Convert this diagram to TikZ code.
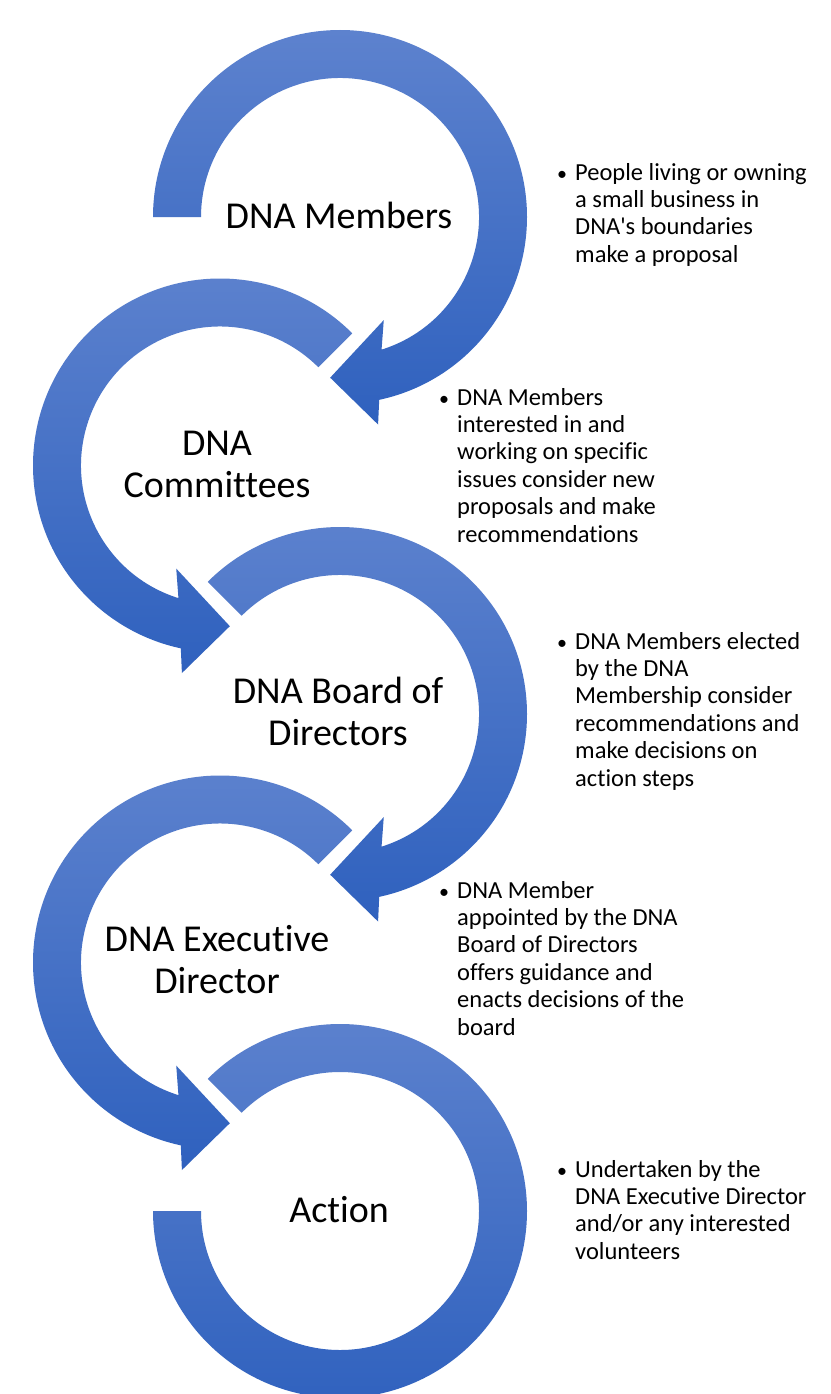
\documentclass[tikz,border=0pt]{standalone}
\usepackage{fontspec}
\setmainfont{Carlito}[Ligatures={NoCommon}]
\begin{document}
\begin{tikzpicture}[x=1pt,y=1pt,
  arrowshade/.style={top color=arrtop, bottom color=arrbot},
  title/.style={font=\fontsize{38}{42}\selectfont, align=center, inner sep=0pt, anchor=base, text=black},
  desc/.style={font=\fontsize{24.5}{27.4}\selectfont, align=left, inner sep=0pt, anchor=base west, text=black},
  bul/.style={font=\fontsize{20}{24}\selectfont, inner sep=0pt, anchor=base, text=black}]
\definecolor{arrtop}{RGB}{93,130,206}
\definecolor{arrbot}{RGB}{47,97,190}
\useasboundingbox (0,0) rectangle (830,-1394);
\fill[white] (0,0) rectangle (830,-1394);

% circle 1 (clockwise, head at bottom)
\begin{scope}[shift={(340,-217)}]
\shade[arrowshade] (180:187) arc[start angle=180, end angle=-77.9, radius=187]
  -- (-79.6:211) -- (-93.5:161) -- (-67:112) -- (-72.6:139)
  arc[start angle=-72.6, end angle=180, radius=139] -- cycle;
\end{scope}
% circle 2 (counterclockwise)
\begin{scope}[shift={(220,-465.5)}]
\shade[arrowshade] (45:187) arc[start angle=45, end angle=257.9, radius=187]
  -- (259.6:211) -- (273.5:161) -- (247:112) -- (252.6:139)
  arc[start angle=252.6, end angle=45, radius=139] -- cycle;
\end{scope}
% circle 3
\begin{scope}[shift={(340,-714)}]
\shade[arrowshade] (135:187) arc[start angle=135, end angle=-77.9, radius=187]
  -- (-79.6:211) -- (-93.5:161) -- (-67:112) -- (-72.6:139)
  arc[start angle=-72.6, end angle=135, radius=139] -- cycle;
\end{scope}
% circle 4
\begin{scope}[shift={(220,-962.5)}]
\shade[arrowshade] (45:187) arc[start angle=45, end angle=257.9, radius=187]
  -- (259.6:211) -- (273.5:161) -- (247:112) -- (252.6:139)
  arc[start angle=252.6, end angle=45, radius=139] -- cycle;
\end{scope}
% circle 5 (block arc, no head)
\begin{scope}[shift={(340,-1211)}]
\shade[arrowshade] (135:187) arc[start angle=135, end angle=-180, radius=187]
  -- (180:139) arc[start angle=-180, end angle=135, radius=139] -- cycle;
\end{scope}

% titles (anchored at the baseline of the last line)
\node[title] (t1) at (339,-228) {DNA Members};
\node[title] (t2) at (217,-497) {DNA\\Committees};
\node[title] (t3) at (338,-745) {DNA Board of\\Directors};
\node[title] (t4) at (217,-993) {DNA Executive\\Director};
\node[title] (t5) at (339,-1222) {Action};

% descriptions (anchored at the baseline of the last line)
\node[bul] (b1) at (562,-180) {•};
\node[desc] (d1) at (575,-262.2) {People living or owning\\a small business in\\DNA\textquotesingle s boundaries\\make a proposal};
\node[bul] (b2) at (444,-405) {•};
\node[desc] (d2) at (457,-542) {DNA Members\\interested in and\\working on specific\\issues consider new\\proposals and make\\recommendations};
\node[bul] (b3) at (562,-649) {•};
\node[desc] (d3) at (575,-786) {DNA Members elected\\by the DNA\\Membership consider\\recommendations and\\make decisions on\\action steps};
\node[bul] (b4) at (444,-898) {•};
\node[desc] (d4) at (457,-1035) {DNA Member\\appointed by the DNA\\Board of Directors\\offers guidance and\\enacts decisions of the\\board};
\node[bul] (b5) at (562,-1177) {•};
\node[desc] (d5) at (575,-1259.2) {Undertaken by the\\DNA Executive Director\\and/or any interested\\volunteers};
\end{tikzpicture}
\end{document}
